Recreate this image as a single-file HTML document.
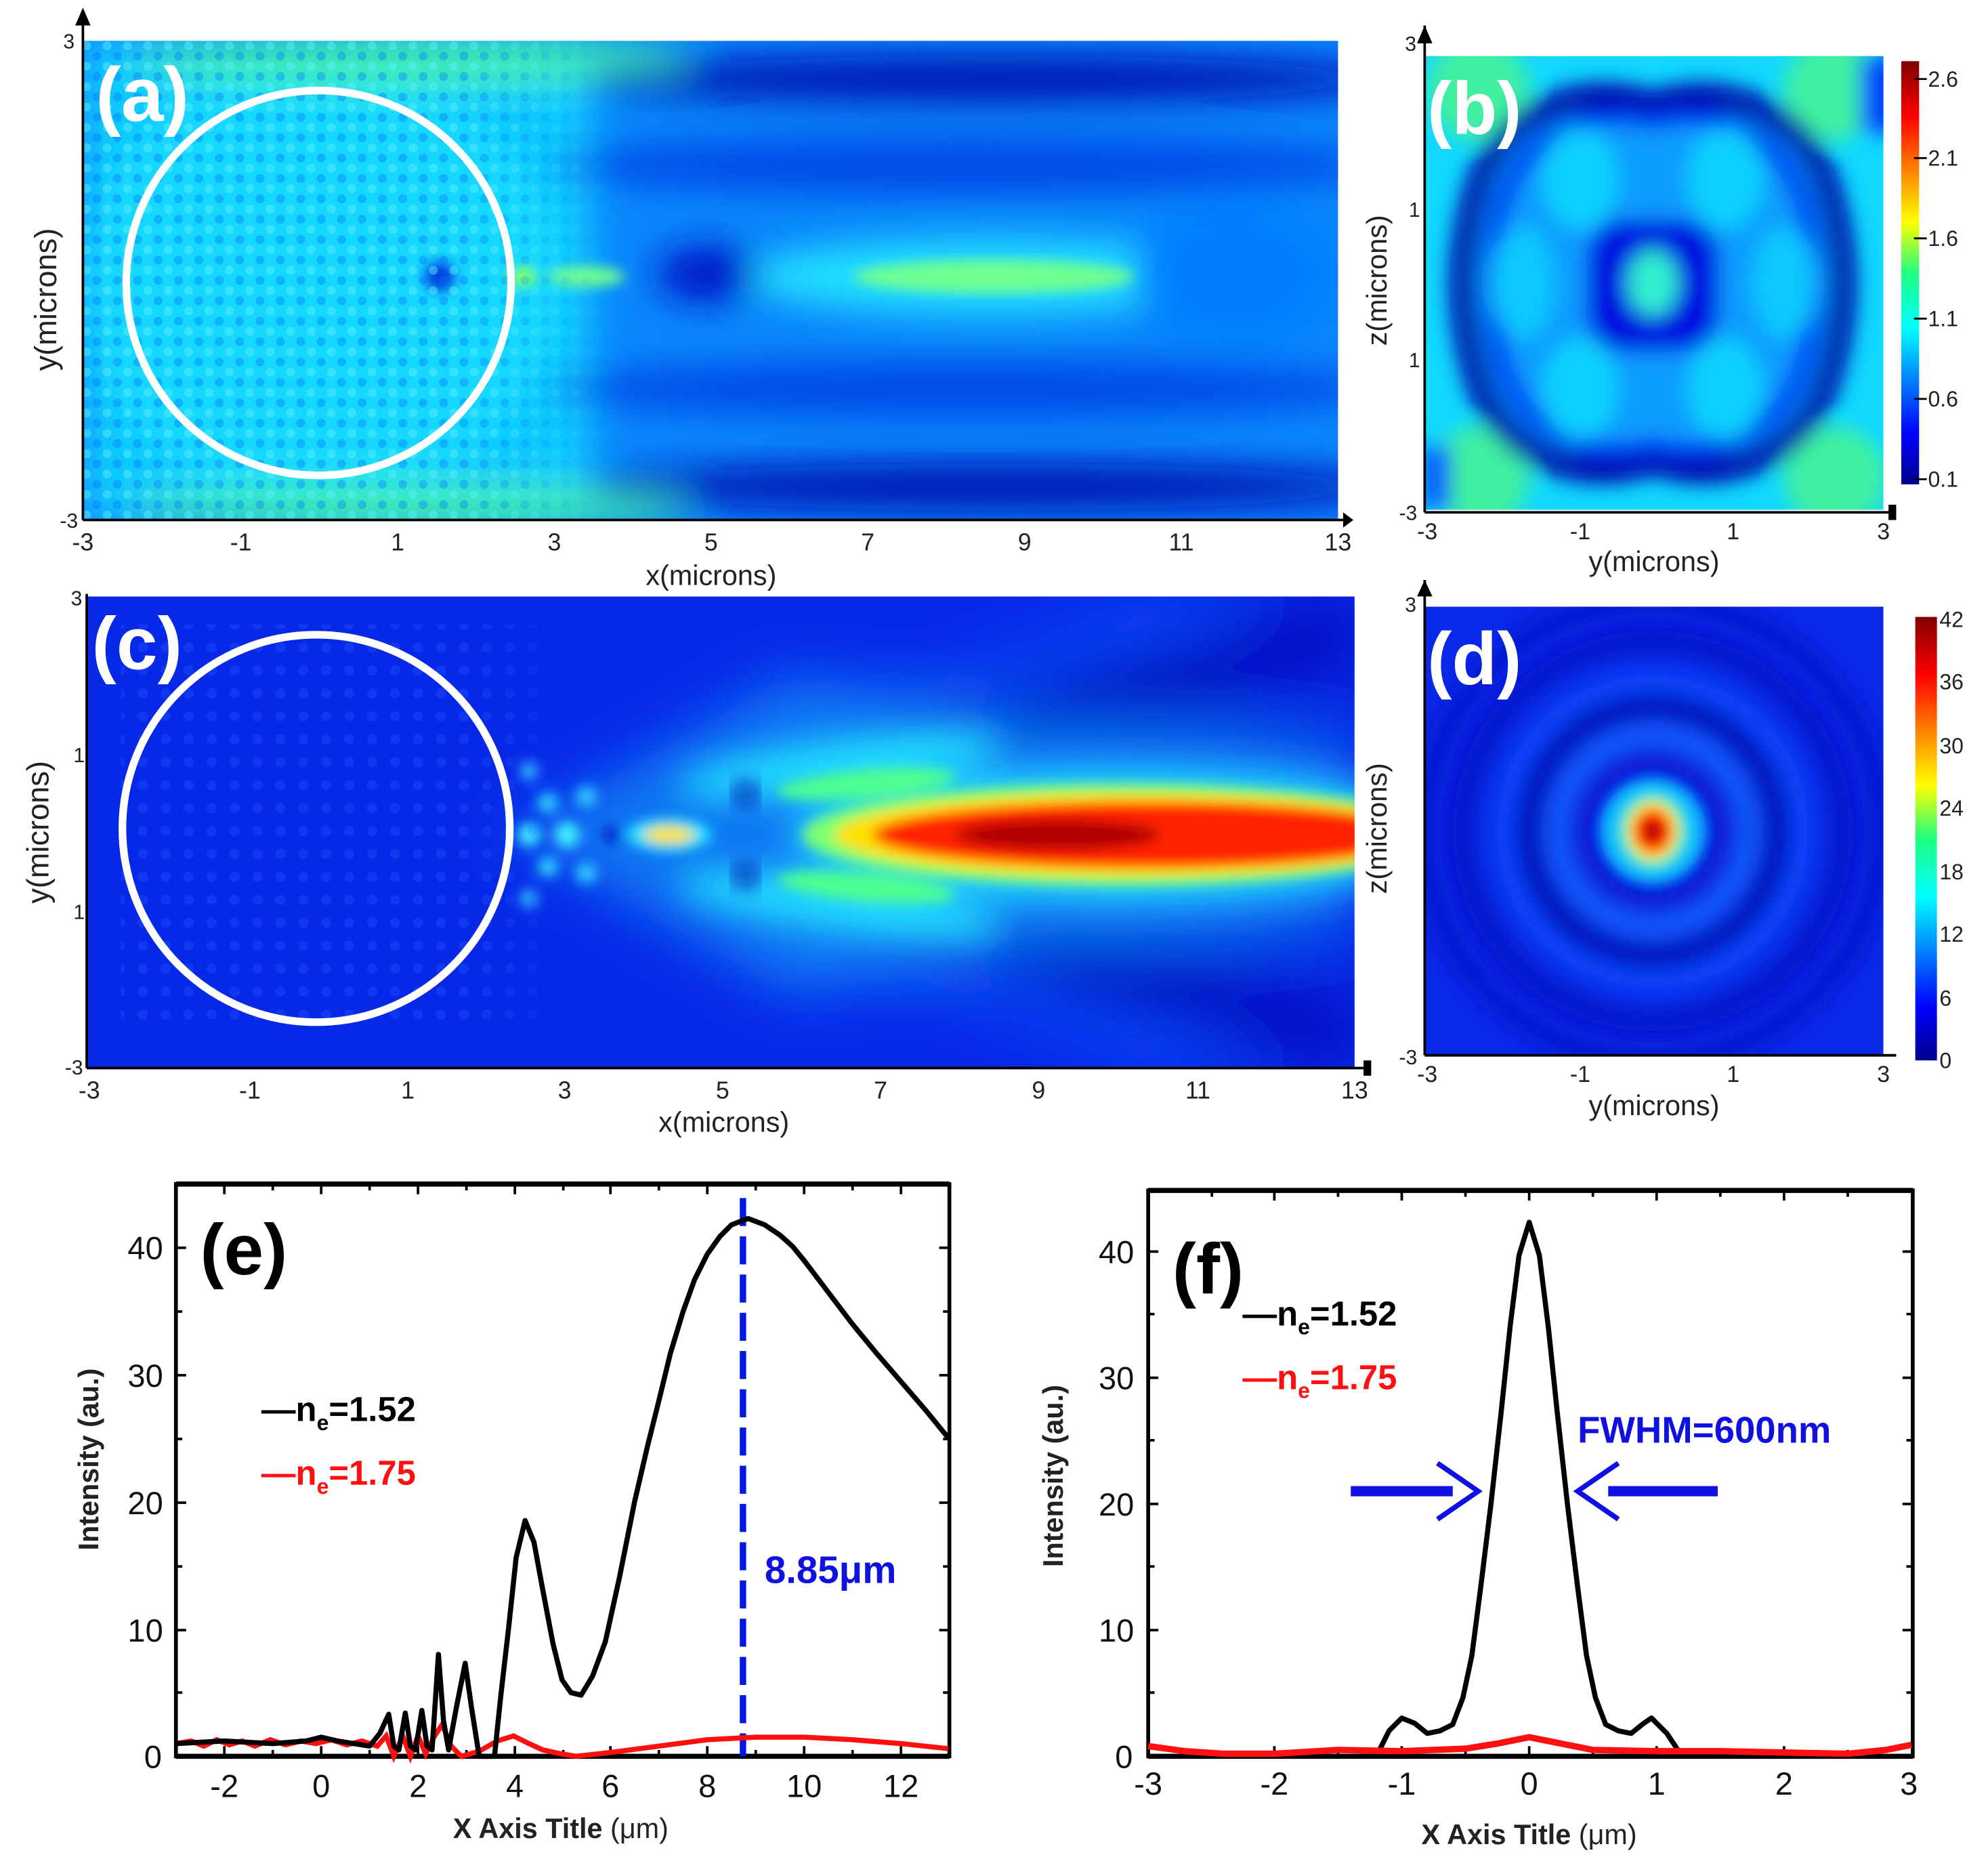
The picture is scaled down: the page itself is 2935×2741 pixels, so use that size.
<!DOCTYPE html>
<html><head><meta charset="utf-8"><style>
html,body{margin:0;padding:0;background:#fff}
svg{display:block}
text{font-family:"Liberation Sans Narrow","Liberation Sans",sans-serif}
</style></head><body>
<svg width="2935" height="2741" viewBox="0 0 1560 1457" xmlns="http://www.w3.org/2000/svg">
<defs>
<filter id="b8" x="-20%" y="-20%" width="140%" height="140%"><feGaussianBlur stdDeviation="8"/></filter>
<filter id="b14" x="-20%" y="-20%" width="140%" height="140%"><feGaussianBlur stdDeviation="14"/></filter>
<filter id="b22" x="-20%" y="-20%" width="140%" height="140%"><feGaussianBlur stdDeviation="22"/></filter>
<filter id="b5" x="-20%" y="-20%" width="140%" height="140%"><feGaussianBlur stdDeviation="5"/></filter>
<clipPath id="ca"><rect x="65" y="32" width="985" height="376"/></clipPath>
<clipPath id="cb"><rect x="1118" y="44" width="360" height="356"/></clipPath>
<clipPath id="cc"><rect x="68" y="468" width="995" height="370"/></clipPath>
<clipPath id="cd"><rect x="1118" y="476" width="360" height="352"/></clipPath>
<linearGradient id="jet" x1="0" y1="1" x2="0" y2="0">
<stop offset="0" stop-color="#00008f"/><stop offset="0.12" stop-color="#0000ff"/><stop offset="0.37" stop-color="#00ffff"/>
<stop offset="0.5" stop-color="#20ff80"/><stop offset="0.62" stop-color="#ffff00"/><stop offset="0.87" stop-color="#ff0000"/><stop offset="1" stop-color="#800000"/>
</linearGradient>
<linearGradient id="fadeA" gradientUnits="userSpaceOnUse" x1="65" y1="0" x2="480" y2="0">
<stop offset="0" stop-color="#fff"/><stop offset="0.72" stop-color="#fff"/><stop offset="1" stop-color="#000"/>
</linearGradient>
<mask id="mA" maskUnits="userSpaceOnUse" x="0" y="0" width="1560" height="1457"><rect x="0" y="0" width="1560" height="1457" fill="url(#fadeA)"/></mask>
<pattern id="chk" width="16" height="16" patternUnits="userSpaceOnUse"><circle cx="4" cy="4" r="3.5" fill="#60f0ff" opacity="0.45"/><circle cx="12" cy="12" r="3.5" fill="#0070ff" opacity="0.35"/></pattern>
<pattern id="chk2" width="18" height="18" patternUnits="userSpaceOnUse"><circle cx="4" cy="4" r="4" fill="#2060ff" opacity="0.3"/></pattern>
</defs>

<!-- Panel a -->
<g clip-path="url(#ca)">
<rect x="65" y="32" width="985" height="376" fill="#0a86fb"/>
<g filter="url(#b14)">
<rect x="65" y="32" width="400" height="376" fill="#10c8ff"/>
<ellipse cx="250" cy="222" rx="190" ry="170" fill="#18d8ff"/>
<ellipse cx="320" cy="48" rx="220" ry="20" fill="#40f0b0"/>
<ellipse cx="320" cy="397" rx="220" ry="18" fill="#40f0b0"/>
<ellipse cx="780" cy="62" rx="320" ry="18" fill="#0008b0"/>
<ellipse cx="780" cy="382" rx="320" ry="18" fill="#0008b0"/>
<ellipse cx="760" cy="130" rx="330" ry="22" fill="#0048e8"/>
<ellipse cx="760" cy="305" rx="330" ry="22" fill="#0048e8"/>
<ellipse cx="780" cy="217" rx="200" ry="30" fill="#20e0ff"/>
<ellipse cx="555" cy="215" rx="40" ry="22" fill="#0018c8"/>
<ellipse cx="970" cy="215" rx="80" ry="60" fill="#0080ff"/>
</g>
<g filter="url(#b5)">
<ellipse cx="780" cy="217" rx="110" ry="13" fill="#70ff90"/>
<ellipse cx="460" cy="217" rx="30" ry="8" fill="#70ff90"/>
<ellipse cx="410" cy="217" rx="12" ry="8" fill="#80ff70"/>
<ellipse cx="345" cy="217" rx="12" ry="12" fill="#0040e0"/>
</g>
<rect x="65" y="32" width="420" height="376" fill="url(#chk)" mask="url(#mA)"/>
</g>
<circle cx="250" cy="222" r="151" fill="none" stroke="#fff" stroke-width="6"/>
<text x="75" y="95" font-size="60" font-weight="bold" fill="#fff" font-family="Liberation Sans">(a)</text>
<g stroke="#000" stroke-width="2" fill="none">
<line x1="65" y1="10" x2="65" y2="408"/><line x1="65" y1="408" x2="1060" y2="408"/>
</g>
<polygon points="59,20 65,6 71,20" fill="#000"/><polygon points="1054,402 1062,408 1054,414" fill="#000"/>
<g font-size="19" fill="#222" text-anchor="middle">
<text x="65" y="432">-3</text><text x="189" y="432">-1</text><text x="312" y="432">1</text><text x="435" y="432">3</text><text x="558" y="432">5</text><text x="681" y="432">7</text><text x="804" y="432">9</text><text x="927" y="432">11</text><text x="1050" y="432">13</text>
<text x="558" y="459" font-size="22">x(microns)</text>
<text x="54" y="38" font-size="16">3</text><text x="54" y="414" font-size="16">-3</text>
<text transform="translate(44,235) rotate(-90)" font-size="24">y(microns)</text>
</g>

<!-- Panel b -->
<g clip-path="url(#cb)">
<rect x="1118" y="44" width="360" height="356" fill="#10d8ff"/>
<g filter="url(#b8)">
<circle cx="1160" cy="70" r="40" fill="#40f0a0"/><circle cx="1440" cy="70" r="40" fill="#40f0a0"/>
<circle cx="1160" cy="375" r="40" fill="#40f0a0"/><circle cx="1440" cy="375" r="40" fill="#40f0a0"/>
<rect x="1460" y="44" width="30" height="60" fill="#0040ff"/>
<rect x="1118" y="350" width="20" height="50" fill="#0040ff"/>
<path d="M1297,82 C1360,60 1420,95 1435,150 C1450,200 1450,245 1435,295 C1420,350 1360,385 1297,362 C1234,385 1174,350 1159,295 C1144,245 1144,200 1159,150 C1174,95 1234,60 1297,82Z" fill="#0a9cff" stroke="#0000a8" stroke-width="20"/>
<path d="M1297,95 C1350,80 1400,110 1415,160 C1425,200 1425,245 1415,285 C1400,335 1350,365 1297,350 C1244,365 1194,335 1179,285 C1169,245 1169,200 1179,160 C1194,110 1244,80 1297,95Z" fill="none" stroke="#0030f0" stroke-width="14"/>
<ellipse cx="1240" cy="140" rx="30" ry="40" fill="#10d0ff"/><ellipse cx="1354" cy="140" rx="30" ry="40" fill="#10d0ff"/>
<ellipse cx="1240" cy="305" rx="30" ry="40" fill="#10d0ff"/><ellipse cx="1354" cy="305" rx="30" ry="40" fill="#10d0ff"/>
<ellipse cx="1195" cy="222" rx="25" ry="45" fill="#10c8ff"/><ellipse cx="1400" cy="222" rx="25" ry="45" fill="#10c8ff"/>
<rect x="1245" y="172" width="104" height="104" rx="30" fill="#0010e0"/>
<ellipse cx="1297" cy="222" rx="20" ry="26" fill="#30f0d0"/>
</g>
</g>
<g stroke="#000" stroke-width="2"><line x1="1118" y1="20" x2="1118" y2="402"/><line x1="1118" y1="402" x2="1488" y2="402"/></g>
<polygon points="1112,34 1118,20 1124,34" fill="#000"/><rect x="1482" y="396" width="6" height="12" fill="#000"/>
<text x="1120" y="105" font-size="58" font-weight="bold" fill="#fff" font-family="Liberation Sans">(b)</text>
<g font-size="18" fill="#222" text-anchor="middle">
<text x="1120" y="423">-3</text><text x="1240" y="423">-1</text><text x="1360" y="423">1</text><text x="1478" y="423">3</text>
<text x="1298" y="448" font-size="22">y(microns)</text>
<text x="1107" y="40" font-size="16">3</text><text x="1110" y="170" font-size="16">1</text><text x="1110" y="288" font-size="16">1</text><text x="1105" y="408" font-size="16">-3</text>
<text transform="translate(1088,220) rotate(-90)" font-size="22">z(microns)</text>
</g>
<rect x="1492" y="48" width="14" height="332" fill="url(#jet)"/>
<g font-size="17" fill="#222"><g stroke="#000" stroke-width="1.5">
<line x1="1502" y1="62" x2="1512" y2="62"/><line x1="1502" y1="124" x2="1512" y2="124"/><line x1="1502" y1="187" x2="1512" y2="187"/><line x1="1502" y1="250" x2="1512" y2="250"/><line x1="1502" y1="313" x2="1512" y2="313"/><line x1="1502" y1="376" x2="1512" y2="376"/></g>
<text x="1513" y="68">2.6</text><text x="1513" y="130">2.1</text><text x="1513" y="193">1.6</text><text x="1513" y="256">1.1</text><text x="1513" y="319">0.6</text><text x="1513" y="382">0.1</text></g>

<!-- Panel c -->
<g clip-path="url(#cc)">
<rect x="68" y="468" width="995" height="370" fill="#0828e8"/>
<g filter="url(#b22)">
<path d="M420,655 L1063,470 L1063,520 Z" fill="#0008a8" opacity="0.7"/>
<path d="M420,655 L1063,838 L1063,790 Z" fill="#0008a8" opacity="0.7"/>
<path d="M400,655 L900,470 L1000,470 Z" fill="#1060ff" opacity="0.6"/>
<path d="M400,655 L900,838 L1000,838 Z" fill="#1060ff" opacity="0.6"/>
<path d="M400,655 L620,530 L800,555 L1063,590 L1063,720 L800,755 L620,780 Z" fill="#10b8ff" opacity="0.55"/>
<path d="M420,655 L760,560 L1063,560 L1063,575 L760,580 Z" fill="#0020d0" opacity="0.6"/>
<path d="M420,655 L760,750 L1063,750 L1063,735 L760,730 Z" fill="#0020d0" opacity="0.6"/>
</g>
<g filter="url(#b14)">
<ellipse cx="660" cy="600" rx="130" ry="20" fill="#20e0ff" transform="rotate(-8 660 600)"/>
<ellipse cx="660" cy="710" rx="130" ry="20" fill="#20e0ff" transform="rotate(8 660 710)"/>
<ellipse cx="880" cy="655" rx="260" ry="52" fill="#20d8ff"/>
</g>
<g filter="url(#b5)">
<ellipse cx="680" cy="615" rx="70" ry="11" fill="#50ff90" transform="rotate(-5 680 615)"/>
<ellipse cx="680" cy="696" rx="70" ry="11" fill="#50ff90" transform="rotate(5 680 696)"/>
<ellipse cx="880" cy="655" rx="250" ry="40" fill="#80ff70"/>
<ellipse cx="890" cy="655" rx="235" ry="33" fill="#ffe000"/>
<ellipse cx="900" cy="655" rx="215" ry="26" fill="#ff2000"/>
<ellipse cx="830" cy="655" rx="80" ry="12" fill="#b00000"/>
<ellipse cx="525" cy="655" rx="34" ry="13" fill="#20e0ff"/>
<ellipse cx="525" cy="655" rx="20" ry="7" fill="#ffe000"/>
<circle cx="415" cy="655" r="9" fill="#40f0ff"/><circle cx="445" cy="655" r="10" fill="#40f0ff"/><circle cx="480" cy="655" r="6" fill="#0010c0"/>
<circle cx="430" cy="630" r="8" fill="#30d0ff"/><circle cx="430" cy="680" r="8" fill="#30d0ff"/>
<circle cx="460" cy="625" r="8" fill="#30d0ff"/><circle cx="460" cy="685" r="8" fill="#30d0ff"/>
<circle cx="415" cy="605" r="7" fill="#30c0ff"/><circle cx="415" cy="705" r="7" fill="#30c0ff"/>
</g>
<g filter="url(#b8)">
<circle cx="585" cy="623" r="9" fill="#0010b0"/><circle cx="585" cy="687" r="9" fill="#0010b0"/>
</g>
<rect x="95" y="490" width="330" height="320" fill="url(#chk2)" mask="url(#mA)"/>
</g>
<rect x="1063" y="565" width="8" height="165" fill="#fff"/>
<circle cx="248" cy="650" r="152" fill="none" stroke="#fff" stroke-width="6"/>
<text x="72" y="525" font-size="58" font-weight="bold" fill="#fff" font-family="Liberation Sans">(c)</text>
<g stroke="#000" stroke-width="2"><line x1="68" y1="466" x2="68" y2="838"/><line x1="68" y1="838" x2="1075" y2="838"/></g>
<rect x="1070" y="832" width="6" height="12" fill="#000"/>
<g font-size="19" fill="#222" text-anchor="middle">
<text x="70" y="862">-3</text><text x="196" y="862">-1</text><text x="320" y="862">1</text><text x="443" y="862">3</text><text x="567" y="862">5</text><text x="691" y="862">7</text><text x="815" y="862">9</text><text x="940" y="862">11</text><text x="1063" y="862">13</text>
<text x="568" y="888" font-size="22">x(microns)</text>
<text x="60" y="475" font-size="16">3</text><text x="62" y="598" font-size="16">1</text><text x="62" y="721" font-size="16">1</text><text x="58" y="843" font-size="16">-3</text>
<text transform="translate(38,653) rotate(-90)" font-size="24">y(microns)</text>
</g>

<!-- Panel d -->
<g clip-path="url(#cd)">
<rect x="1118" y="476" width="360" height="352" fill="#0a28e8"/>
<g filter="url(#b8)" fill="none">
<circle cx="1297" cy="652" r="150" stroke="#0010c0" stroke-width="14"/>
<circle cx="1297" cy="652" r="118" stroke="#1050ff" stroke-width="12"/>
<circle cx="1297" cy="652" r="98" stroke="#0008b0" stroke-width="14"/>
<circle cx="1297" cy="652" r="75" stroke="#1868ff" stroke-width="14"/>
<circle cx="1297" cy="652" r="55" stroke="#0818c8" stroke-width="12"/>
<circle cx="1297" cy="652" r="180" stroke="#0418c8" stroke-width="14"/>
</g>
<g filter="url(#b5)">
<circle cx="1297" cy="652" r="42" fill="#10b8ff"/>
<ellipse cx="1297" cy="652" rx="27" ry="30" fill="#40f0c0"/>
<ellipse cx="1297" cy="652" rx="20" ry="23" fill="#ffe000"/>
<ellipse cx="1297" cy="652" rx="15" ry="17" fill="#ff2000"/>
<circle cx="1297" cy="652" r="7" fill="#a00000"/>
</g>
</g>
<g stroke="#000" stroke-width="2"><line x1="1118" y1="455" x2="1118" y2="828"/><line x1="1118" y1="828" x2="1488" y2="828"/></g>
<polygon points="1112,468 1118,455 1124,468" fill="#000"/>
<text x="1120" y="537" font-size="58" font-weight="bold" fill="#fff" font-family="Liberation Sans">(d)</text>
<g font-size="18" fill="#222" text-anchor="middle">
<text x="1120" y="849">-3</text><text x="1240" y="849">-1</text><text x="1360" y="849">1</text><text x="1478" y="849">3</text>
<text x="1298" y="875" font-size="22">y(microns)</text>
<text x="1107" y="480" font-size="16">3</text><text x="1105" y="835" font-size="16">-3</text>
<text transform="translate(1088,650) rotate(-90)" font-size="22">z(microns)</text>
</g>
<rect x="1503" y="484" width="17" height="348" fill="url(#jet)"/>
<g font-size="17" fill="#222">
<text x="1522" y="492">42</text><text x="1522" y="541">36</text><text x="1522" y="591">30</text><text x="1522" y="640">24</text><text x="1522" y="690">18</text><text x="1522" y="739">12</text><text x="1522" y="789">6</text><text x="1522" y="838">0</text></g>

<!-- Panel e -->
<rect x="138" y="929" width="607" height="449" fill="none" stroke="#000" stroke-width="3"/>
<line x1="138" y1="929" x2="745" y2="929" stroke="#000" stroke-width="4"/>
<line x1="138" y1="1378" x2="745" y2="1378" stroke="#000" stroke-width="4"/>
<g stroke="#000" stroke-width="2">
<path d="M176,1378v-8M214,1378v-5M252,1378v-8M290,1378v-5M328,1378v-8M366,1378v-5M404,1378v-8M442,1378v-5M479,1378v-8M517,1378v-5M555,1378v-8M593,1378v-5M631,1378v-8M669,1378v-5M707,1378v-8"/>
<path d="M176,929v8M214,929v5M252,929v8M290,929v5M328,929v8M366,929v5M404,929v8M442,929v5M479,929v8M517,929v5M555,929v8M593,929v5M631,929v8M669,929v5M707,929v8"/>
<path d="M138,1279h8M138,1179h8M138,1079h8M138,979h8M138,1328h5M138,1229h5M138,1129h5M138,1029h5"/>
<path d="M745,1279h-8M745,1179h-8M745,1079h-8M745,979h-8M745,1328h-5M745,1229h-5M745,1129h-5M745,1029h-5"/>
</g>
<g font-size="25" fill="#111" text-anchor="middle">
<text x="176" y="1410">-2</text><text x="252" y="1410">0</text><text x="328" y="1410">2</text><text x="404" y="1410">4</text><text x="479" y="1410">6</text><text x="555" y="1410">8</text><text x="631" y="1410">10</text><text x="707" y="1410">12</text>
<text x="120" y="1387">0</text><text x="114" y="1288">10</text><text x="114" y="1188">20</text><text x="114" y="1088">30</text><text x="114" y="988">40</text>
</g>
<text x="440" y="1442" font-size="22" font-weight="bold" text-anchor="middle" fill="#222" font-family="Liberation Sans">X Axis Title <tspan font-weight="normal">(μm)</tspan></text>
<text transform="translate(77,1145) rotate(-90)" font-size="22" font-weight="bold" text-anchor="middle" fill="#222" font-family="Liberation Sans">Intensity (au.)</text>
<text x="157" y="1000" font-size="56" font-weight="bold" fill="#000" font-family="Liberation Sans">(e)</text>
<line x1="583" y1="940" x2="583" y2="1378" stroke="#0018e0" stroke-width="5" stroke-dasharray="22,8"/>
<polyline fill="none" stroke="#ff1010" stroke-width="4" points="138,1368 150,1366 160,1370 170,1365 180,1369 190,1366 200,1370 212,1365 224,1369 236,1366 248,1368 260,1365 272,1369 284,1366 296,1370 303,1362 309,1378 316,1362 322,1378 328,1362 334,1376 341,1362 347,1353 354,1370 362,1378 376,1374 390,1366 403,1362 415,1368 426,1373 440,1376 452,1378 479,1375 517,1370 555,1365 593,1363 631,1363 669,1365 707,1368 744,1372"/>
<polyline fill="none" stroke="#000" stroke-width="4" stroke-linejoin="round" points="138,1368 176,1366 214,1368 240,1366 252,1363 265,1366 290,1370 298,1360 305,1345 309,1370 313,1373 318,1344 322,1370 326,1373 331,1342 335,1370 339,1373 344,1298 348,1350 352,1373 358,1340 365,1305 370,1340 376,1378 388,1378 393,1330 399,1278 405,1222 412,1193 419,1210 426,1248 434,1290 441,1318 448,1328 456,1330 465,1315 475,1288 486,1238 498,1178 508,1135 517,1099 526,1062 536,1029 545,1004 555,984 565,970 574,961 587,956 600,961 612,969 622,978 631,989 650,1014 669,1039 688,1062 707,1084 726,1106 744,1128"/>
<text x="600" y="1242" font-size="30" font-weight="bold" fill="#1010e0" font-family="Liberation Sans">8.85μm</text>
<g font-size="27" font-weight="bold" font-family="Liberation Sans">
<text x="205" y="1115" fill="#000">—n<tspan font-size="17" dy="7">e</tspan><tspan dy="-7">=1.52</tspan></text>
<text x="205" y="1165" fill="#ff1010">—n<tspan font-size="17" dy="7">e</tspan><tspan dy="-7">=1.75</tspan></text>
</g>

<!-- Panel f -->
<rect x="901" y="934" width="600" height="444" fill="none" stroke="#000" stroke-width="3"/>
<line x1="901" y1="934" x2="1501" y2="934" stroke="#000" stroke-width="4"/>
<line x1="901" y1="1378" x2="1501" y2="1378" stroke="#000" stroke-width="4"/>
<g stroke="#000" stroke-width="2">
<path d="M1000,1378v-8M1050,1378v-5M1100,1378v-8M1150,1378v-5M1200,1378v-8M1250,1378v-5M1300,1378v-8M1350,1378v-5M1400,1378v-8M1450,1378v-5M951,1378v-5"/>
<path d="M1000,934v8M1050,934v5M1100,934v8M1150,934v5M1200,934v8M1250,934v5M1300,934v8M1350,934v5M1400,934v8M1450,934v5M951,934v5"/>
<path d="M901,1279h8M901,1180h8M901,1081h8M901,982h8M901,1328h5M901,1229h5M901,1130h5M901,1031h5"/>
<path d="M1501,1279h-8M1501,1180h-8M1501,1081h-8M1501,982h-8M1501,1328h-5M1501,1229h-5M1501,1130h-5M1501,1031h-5"/>
</g>
<g font-size="25" fill="#111" text-anchor="middle">
<text x="901" y="1408">-3</text><text x="1000" y="1408">-2</text><text x="1100" y="1408">-1</text><text x="1200" y="1408">0</text><text x="1300" y="1408">1</text><text x="1400" y="1408">2</text><text x="1498" y="1408">3</text>
<text x="882" y="1387">0</text><text x="876" y="1288">10</text><text x="876" y="1189">20</text><text x="876" y="1090">30</text><text x="876" y="991">40</text>
</g>
<text x="1200" y="1447" font-size="22" font-weight="bold" text-anchor="middle" fill="#222" font-family="Liberation Sans">X Axis Title <tspan font-weight="normal">(μm)</tspan></text>
<text transform="translate(834,1158) rotate(-90)" font-size="22" font-weight="bold" text-anchor="middle" fill="#222" font-family="Liberation Sans">Intensity (au.)</text>
<text x="920" y="1015" font-size="56" font-weight="bold" fill="#000" font-family="Liberation Sans">(f)</text>
<polyline fill="none" stroke="#000" stroke-width="4" stroke-linejoin="round" points="1080,1378 1090,1358 1100,1348 1110,1352 1120,1360 1130,1358 1140,1353 1148,1332 1155,1299 1162,1245 1170,1180 1178,1108 1185,1041 1192,985 1200,959 1208,985 1215,1041 1222,1108 1230,1180 1238,1245 1245,1299 1252,1332 1260,1353 1270,1358 1280,1360 1290,1352 1296,1348 1308,1360 1320,1378"/>
<polyline fill="none" stroke="#ff1010" stroke-width="5" points="901,1370 930,1374 960,1376 1000,1376 1050,1373 1100,1374 1150,1372 1175,1368 1200,1363 1225,1368 1250,1373 1300,1374 1350,1374 1400,1375 1450,1376 1480,1373 1500,1369"/>
<text x="1238" y="1132" font-size="29" font-weight="bold" fill="#1010e0" font-family="Liberation Sans">FWHM=600nm</text>
<line x1="1060" y1="1170" x2="1140" y2="1170" stroke="#1010e0" stroke-width="8"/>
<path d="M1128,1148 L1160,1170 L1128,1192" fill="none" stroke="#1010e0" stroke-width="4"/>
<line x1="1262" y1="1170" x2="1348" y2="1170" stroke="#1010e0" stroke-width="8"/>
<path d="M1270,1148 L1238,1170 L1270,1192" fill="none" stroke="#1010e0" stroke-width="4"/>
<g font-size="27" font-weight="bold" font-family="Liberation Sans">
<text x="975" y="1040" fill="#000">—n<tspan font-size="17" dy="7">e</tspan><tspan dy="-7">=1.52</tspan></text>
<text x="975" y="1090" fill="#ff1010">—n<tspan font-size="17" dy="7">e</tspan><tspan dy="-7">=1.75</tspan></text>
</g>
</svg>
</body></html>
